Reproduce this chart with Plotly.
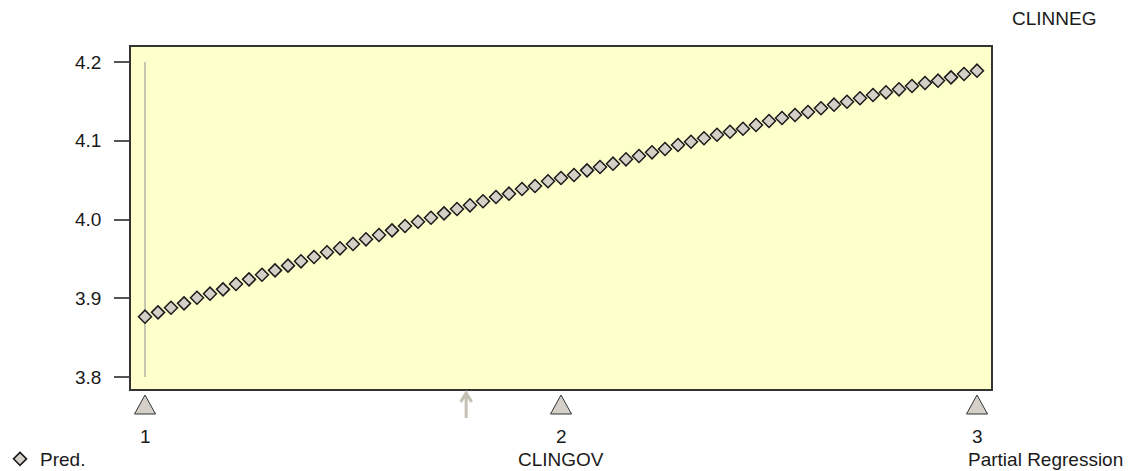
import plotly.graph_objects as go

# ---- data ----
clingov = [1 + k / 32 for k in range(65)]
pred = [3.8766, 3.8821, 3.8880, 3.8935, 3.9007, 3.9058, 3.9113, 3.9181, 3.9240, 3.9299,
        3.9354, 3.9414, 3.9469, 3.9524, 3.9583, 3.9634, 3.9689, 3.9748, 3.9803, 3.9862,
        3.9917, 3.9972, 4.0023, 4.0078, 4.0133, 4.0180, 4.0231, 4.0286, 4.0328, 4.0387,
        4.0425, 4.0485, 4.0527, 4.0565, 4.0624, 4.0667, 4.0709, 4.0764, 4.0806, 4.0853,
        4.0895, 4.0946, 4.0988, 4.1031, 4.1077, 4.1115, 4.1153, 4.1200, 4.1251, 4.1289,
        4.1327, 4.1365, 4.1412, 4.1458, 4.1496, 4.1539, 4.1581, 4.1615, 4.1653, 4.1695,
        4.1733, 4.1763, 4.1805, 4.1848, 4.1890]
x_ticks = [1, 2, 3]
x_tick_labels = ["1", "2", "3"]
y_ticks = [3.8, 3.9, 4.0, 4.1, 4.2]
y_tick_labels = ["3.8", "3.9", "4.0", "4.1", "4.2"]
ref_line_x = 1
ref_line_y = [3.8, 4.2]
clingov_mean = 1.772

FONT = "Liberation Sans, Arial, sans-serif"
TXT = "#1a1a1a"
FS = 19

fig = go.Figure()
fig.add_trace(go.Scatter(x=[ref_line_x, ref_line_x], y=ref_line_y, mode="lines",
                         line=dict(color="#B4B4AA", width=1.5), showlegend=False,
                         hoverinfo="skip"))
fig.add_trace(go.Scatter(x=clingov, y=pred, mode="markers", name="Pred.",
                         marker=dict(symbol="diamond", size=10, color="#D4D0C8",
                                     line=dict(color="#1a1a1a", width=1.5))))

shapes = []
for t in x_ticks:
    shapes.append(dict(type="path", xref="x", yref="paper", xsizemode="pixel",
                       ysizemode="pixel", xanchor=t, yanchor=-25 / 342,
                       path="M -10.5 0 L 10.5 0 L 0 19 Z", fillcolor="#D4D0C8",
                       line=dict(color="#333333", width=1)))
shapes.append(dict(type="path", xref="x", yref="paper", xsizemode="pixel",
                   ysizemode="pixel", xanchor=clingov_mean, yanchor=-29 / 342,
                   path="M 0 0 L 0 24 M -5.5 16 L 0 25 L 5.5 16",
                   line=dict(color="#C4C0B4", width=3)))

annotations = []
for t, lab in zip(x_ticks, x_tick_labels):
    annotations.append(dict(x=t, y=-47.5 / 342, xref="x", yref="paper", text=lab,
                            showarrow=False, xanchor="center", yanchor="middle",
                            font=dict(size=FS, color=TXT, family=FONT)))
annotations.append(dict(x=2, y=-70 / 342, xref="x", yref="paper", text="CLINGOV",
                        showarrow=False, xanchor="center", yanchor="middle",
                        font=dict(size=FS, color=TXT, family=FONT)))
annotations.append(dict(x=(966 - 131) / 860, y=-70 / 342, xref="paper", yref="paper",
                        text="Partial Regression", showarrow=False, xanchor="left",
                        yanchor="middle", font=dict(size=FS, color=TXT, family=FONT)))
annotations.append(dict(x=(1054 - 131) / 860, y=(389 - 18) / 342, xref="paper",
                        yref="paper", text="CLINNEG", showarrow=False, xanchor="center",
                        yanchor="middle", font=dict(size=FS, color=TXT, family=FONT)))

fig.update_layout(
    width=1130, height=471,
    margin=dict(l=131, r=139, t=47, b=82, autoexpand=False),
    paper_bgcolor="white", plot_bgcolor="#FFFFCC",
    font=dict(family=FONT, size=FS, color=TXT),
    shapes=shapes, annotations=annotations,
    showlegend=True,
    legend=dict(x=-131 / 860, y=-70 / 342, xanchor="left", yanchor="middle",
                bgcolor="rgba(0,0,0,0)", font=dict(size=FS, color=TXT, family=FONT)),
    xaxis=dict(range=[1 - 14 / 416, 3 + 14 / 416], showgrid=False, zeroline=False,
               showticklabels=False, ticks="", showline=True, mirror=True,
               linecolor="#333333", linewidth=1.5, automargin=False),
    yaxis=dict(range=[3.8 - 12 / 787.5, 4.2 + 15 / 787.5], showgrid=False,
               zeroline=False, tickvals=y_ticks, ticktext=y_tick_labels,
               ticks="outside", ticklen=15, tickwidth=2, tickcolor="#555555",
               ticklabelstandoff=9, showline=True, mirror=True,
               linecolor="#333333", linewidth=1.5, automargin=False,
               tickfont=dict(size=FS, color=TXT, family=FONT)),
)

fig.write_html("out.html", config={"displayModeBar": False},
               post_script="document.body.style.margin='0';document.body.style.overflow='hidden';")
